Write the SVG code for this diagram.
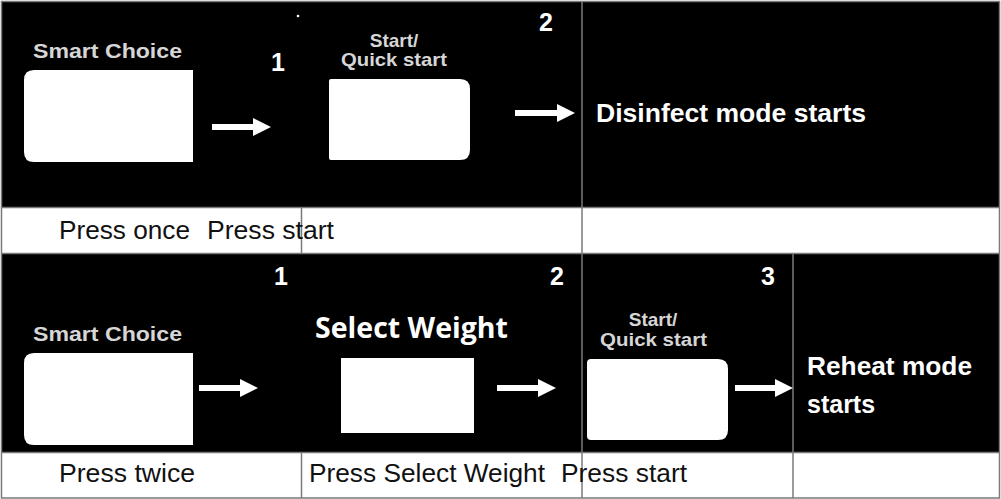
<svg xmlns="http://www.w3.org/2000/svg" width="1001" height="499" viewBox="0 0 1001 499">
  <style>
    .grid { stroke: #7a7a7a; stroke-width: 1.5; fill: none; }
    .btn { fill: #ffffff; }
    .lbl { font-family: "Liberation Sans", Arial, sans-serif; font-weight: bold; fill: #d6d6d6; }
    .num { font-family: "Liberation Sans", Arial, sans-serif; font-weight: bold; fill: #ffffff; font-size: 25px; }
    .msg { font-family: "Liberation Sans", Arial, sans-serif; font-weight: bold; fill: #ffffff; }
    .cap { font-family: "Liberation Sans", Arial, sans-serif; fill: #111111; font-size: 26px; }
    .shaft { stroke: #ffffff; stroke-width: 6; fill: none; }
  </style>
  <defs>
    <marker id="head" markerUnits="userSpaceOnUse" markerWidth="18" markerHeight="18" viewBox="0 0 17 17" refX="0" refY="8.5" orient="auto">
      <path d="M0,0 L17,8.5 L0,17 Z" fill="#ffffff"/>
    </marker>
  </defs>

  <g id="background">
    <rect x="0" y="0" width="1001" height="499" fill="#ffffff"/>
    <rect x="2" y="2" width="997" height="205.5" fill="#000000"/>
    <rect x="2" y="253.5" width="997" height="198.5" fill="#000000"/>
  </g>

  <g id="grid" class="grid">
    <rect x="1.5" y="1.5" width="998" height="496.5"/>
    <line x1="1.5" y1="207.5" x2="999.5" y2="207.5"/>
    <line x1="1.5" y1="253.5" x2="999.5" y2="253.5"/>
    <line x1="1.5" y1="452.5" x2="999.5" y2="452.5"/>
    <line x1="301.5" y1="207.5" x2="301.5" y2="253.5"/>
    <line x1="301.5" y1="452.5" x2="301.5" y2="498"/>
    <line x1="582" y1="1.5" x2="582" y2="498"/>
    <line x1="793" y1="253.5" x2="793" y2="498"/>
  </g>

  <g id="row1-smart-choice">
    <text class="lbl" x="33" y="58" font-size="21" textLength="149" lengthAdjust="spacingAndGlyphs">Smart Choice</text>
    <path class="btn" d="M193,70 H34 Q24,70 24,80 V152 Q24,162 34,162 H193 Z"/>
  </g>
  <g id="row1-step1">
    <text class="num" x="271" y="71">1</text>
    <circle cx="298" cy="16" r="1.3" fill="#ffffff"/>
  </g>
  <g id="row1-start">
    <text class="lbl" x="394" y="47" font-size="19" text-anchor="middle">Start/</text>
    <text class="lbl" x="341" y="66" font-size="19" textLength="106" lengthAdjust="spacingAndGlyphs">Quick start</text>
    <path class="btn" d="M331,79 H460 Q470,79 470,89 V150 Q470,160 460,160 H331 Q329,160 329,158 V81 Q329,79 331,79 Z"/>
  </g>
  <g id="row1-step2">
    <text class="num" x="539" y="31">2</text>
  </g>
  <g id="row1-result">
    <text class="msg" x="596" y="122" font-size="26" textLength="270" lengthAdjust="spacingAndGlyphs">Disinfect mode starts</text>
  </g>
  <g id="row1-captions">
    <text class="cap" x="59" y="238.5" textLength="131" lengthAdjust="spacingAndGlyphs">Press once</text>
    <text class="cap" x="207" y="238.5" textLength="127" lengthAdjust="spacingAndGlyphs">Press start</text>
  </g>

  <g id="row2-smart-choice">
    <text class="lbl" x="33" y="341" font-size="21" textLength="149" lengthAdjust="spacingAndGlyphs">Smart Choice</text>
    <path class="btn" d="M193,353 H34 Q24,353 24,363 V435 Q24,445 34,445 H193 Z"/>
  </g>
  <g id="row2-step1">
    <text class="num" x="274" y="285">1</text>
  </g>
  <g id="row2-select-weight">
    <text x="315" y="338" font-family="'Open Sans', 'Liberation Sans', sans-serif" font-weight="bold" font-size="29" fill="#ffffff" textLength="193" lengthAdjust="spacingAndGlyphs">Select Weight</text>
    <rect class="btn" x="341" y="358" width="133" height="75"/>
  </g>
  <g id="row2-step2">
    <text class="num" x="550" y="285">2</text>
  </g>
  <g id="row2-start">
    <text class="lbl" x="653" y="326" font-size="19" text-anchor="middle">Start/</text>
    <text class="lbl" x="600" y="346" font-size="19" textLength="107" lengthAdjust="spacingAndGlyphs">Quick start</text>
    <path class="btn" d="M591,359 H718 Q728,359 728,369 V430 Q728,440 718,440 H591 Q587,440 587,436 V363 Q587,359 591,359 Z"/>
  </g>
  <g id="row2-step3">
    <text class="num" x="761" y="285">3</text>
  </g>
  <g id="row2-result">
    <text class="msg" x="807" y="375" font-size="25" textLength="165" lengthAdjust="spacingAndGlyphs">Reheat mode</text>
    <text class="msg" x="807" y="413" font-size="25">starts</text>
  </g>
  <g id="row2-captions">
    <text class="cap" x="59" y="482" textLength="136" lengthAdjust="spacingAndGlyphs">Press twice</text>
    <text class="cap" x="309" y="482" textLength="236" lengthAdjust="spacingAndGlyphs">Press Select Weight</text>
    <text class="cap" x="561" y="482" textLength="126" lengthAdjust="spacingAndGlyphs">Press start</text>
  </g>

  <g id="connectors">
    <line class="shaft" x1="212" y1="127" x2="253" y2="127" marker-end="url(#head)"/>
    <line class="shaft" x1="515" y1="113" x2="557" y2="113" marker-end="url(#head)"/>
    <line class="shaft" x1="199" y1="388" x2="240" y2="388" marker-end="url(#head)"/>
    <line class="shaft" x1="497" y1="388" x2="538" y2="388" marker-end="url(#head)"/>
    <line class="shaft" x1="735" y1="388" x2="775" y2="388" marker-end="url(#head)"/>
  </g>
</svg>
